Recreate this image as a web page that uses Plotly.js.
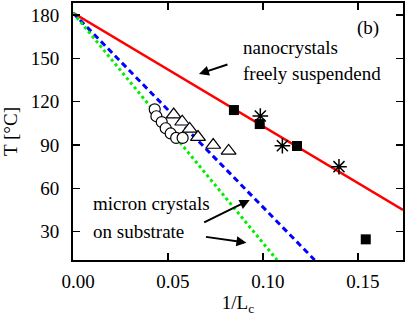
<!DOCTYPE html>
<html><head><meta charset="utf-8">
<script src="https://cdn.plot.ly/plotly-3.0.1.min.js"></script>
<style>html,body{margin:0;padding:0;background:#fff}</style>
</head><body>
<div id="chart" style="width:409px;height:319px"></div>
<script>
// Fitted lines (endpoints)
const lineX = [0, 0.1737];
const nanoLineT = [181.5, 45];
const blueX = [0, 0.1272];
const blueT = [181.5, 10.4];
const greenX = [0, 0.1074];
const greenT = [181.5, 10.4];

// Squares
const squareX = [0.0847, 0.0983, 0.1179, 0.1541];
const squareT = [114.2, 104.5, 89.3, 24.7];
// Asterisks
const starX = [0.0986, 0.1102, 0.1400];
const starT = [110.1, 89.5, 75.0];
// Circles
const circleX = [0.0430, 0.0439, 0.0467, 0.0488, 0.0514, 0.0543, 0.0577];
const circleT = [114.7, 109.9, 105.9, 101.6, 98.0, 94.9, 94.9];
// Triangles
const triX = [0.0530, 0.0575, 0.0614, 0.0658, 0.0738, 0.0819];
const triT = [111.1, 106.1, 101.1, 95.5, 90.0, 85.9];

const xTicks = [0, 0.05, 0.10, 0.15];
const xTickText = ['0.00', '0.05', '0.10', '0.15'];
const yTicks = [30, 60, 90, 120, 150, 180];

const F = 'Liberation Serif';
const FS = 19;

const traces = [
  {x: lineX, y: nanoLineT, mode: 'lines', line: {color: '#ff0000', width: 2.5}},
  {x: blueX, y: blueT, mode: 'lines', line: {color: '#0000ff', width: 3, dash: '6px,4px'}},
  {x: greenX, y: greenT, mode: 'lines', line: {color: '#00ee00', width: 3, dash: 'dot'}},
  {x: circleX, y: circleT, mode: 'markers', marker: {symbol: 'circle', size: 11, color: '#fff', line: {width: 1.2, color: '#000'}}},
  {x: triX, y: triT, mode: 'markers', marker: {symbol: 'triangle-up', size: 13, color: '#fff', line: {width: 1.2, color: '#000'}}},
  {x: squareX, y: squareT, mode: 'markers', marker: {symbol: 'square', size: 10, color: '#000'}},
  {x: starX, y: starT, mode: 'markers', marker: {symbol: 'asterisk-open', size: 13, color: '#000', line: {width: 1.5, color: '#000'}}}
];

const axisCommon = {
  showgrid: false, zeroline: false, showline: true, mirror: 'ticks',
  linecolor: '#000', linewidth: 2, ticks: 'inside', ticklen: 7, tickwidth: 1.5, tickcolor: '#000',
  tickfont: {family: F, size: FS, color: '#000'}
};

const layout = {
  width: 409, height: 319,
  margin: {l: 73, r: 6, t: 3, b: 59},
  paper_bgcolor: '#fff', plot_bgcolor: '#fff',
  showlegend: false,
  font: {family: F, color: '#000', size: FS},
  xaxis: Object.assign({}, axisCommon, {
    range: [0, 0.1737], tickvals: xTicks, ticktext: xTickText, ticklabelstandoff: 3, ticklabelshift: 5,
    title: {text: '1/L<sub>c</sub>', font: {family: F, size: FS, color: '#000'}, standoff: 4}
  }),
  yaxis: Object.assign({}, axisCommon, {
    range: [10.4, 188.3], tickvals: yTicks, ticklabelstandoff: 8,
    title: {text: 'T [°C]', font: {family: F, size: FS, color: '#000'}, standoff: 8}
  }),
  annotations: [
    {x: 0.1551, y: 171, xref: 'x', yref: 'y', text: '(b)', showarrow: false, font: {family: F, size: FS}},
    {x: 0.0886, y: 157.2, xref: 'x', yref: 'y', text: 'nanocrystals', xanchor: 'left', showarrow: false, font: {family: F, size: FS}},
    {x: 0.0886, y: 139.2, xref: 'x', yref: 'y', text: 'freely suspendend', xanchor: 'left', showarrow: false, font: {family: F, size: FS}},
    {x: 0.0093, y: 49.2, xref: 'x', yref: 'y', text: 'micron crystals', xanchor: 'left', showarrow: false, font: {family: F, size: FS}},
    {x: 0.0093, y: 30, xref: 'x', yref: 'y', text: 'on substrate', xanchor: 'left', showarrow: false, font: {family: F, size: FS}},
    {x: 0.0663, y: 139.2, xref: 'x', yref: 'y', text: '', showarrow: true, ax: 30, ay: -10, arrowhead: 2, arrowsize: 1, arrowwidth: 2, arrowcolor: '#000'},
    {x: 0.0930, y: 51.9, xref: 'x', yref: 'y', text: '', showarrow: true, ax: -47, ay: 23, arrowhead: 2, arrowsize: 1, arrowwidth: 2, arrowcolor: '#000'},
    {x: 0.0913, y: 22.4, xref: 'x', yref: 'y', text: '', showarrow: true, ax: -42, ay: -6, arrowhead: 2, arrowsize: 1, arrowwidth: 2, arrowcolor: '#000'}
  ]
};

Plotly.newPlot('chart', traces, layout, {staticPlot: true, displayModeBar: false});
</script>
</body></html>
